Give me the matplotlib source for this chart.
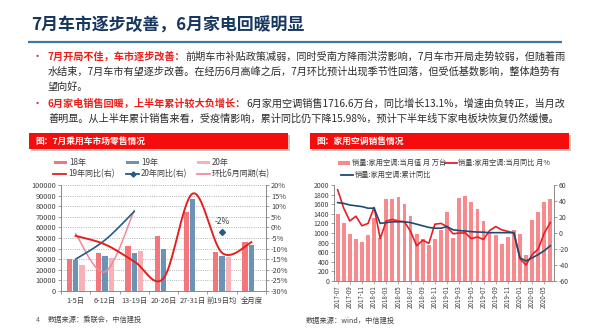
import numpy as np
import pandas as pd
import matplotlib
matplotlib.use('Agg')
import matplotlib.pyplot as plt
from matplotlib.patches import Rectangle
from matplotlib.lines import Line2D

plt.rcParams['font.family'] = ['Noto Sans CJK SC', 'DejaVu Sans']
plt.rcParams['axes.unicode_minus'] = False

# ---------------- 左图：7月乘用车市场零售（周度） ----------------
periods = ['1-5日', '6-12日', '13-19日', '20-26日', '27-31日', '前19日均', '全月度']
retail_18 = [30000, 35500, 42500, 51500, 75000, 37000, 46000]
retail_19 = [29500, 33000, 35500, 40000, 87000, 33000, 43000]
retail_20 = [25000, 31000, 38000, np.nan, np.nan, 32000, np.nan]
yoy_19 = [-4, -8, -16, -24, 16, -12, -7]              # 19年同比(右), %
yoy_20 = [-15, -6, 7.5, np.nan, np.nan, -2, np.nan]    # 20年同比(右), %
mom_jun = [-3, -21, 8, np.nan, np.nan, np.nan, np.nan]  # 环比6月同期(右), %

# ---------------- 右图：家用空调销售（月度） ----------------
months = list(pd.date_range('2017-07-01', periods=36, freq='MS').strftime('%Y-%m'))
ac_sales = [1400, 1200, 980, 870, 810, 960, 1320, 900, 1710, 1715, 1760, 1600,
            1350, 985, 880, 750, 880, 1055, 1435, 900, 1720, 1770, 1645, 1510,
            1245, 1000, 950, 775, 915, 1070, 985, 550, 1265, 1435, 1640, 1717]
ac_yoy = [54, 31, 15, 21, 9, 12, 32, -7, 15, 17, 15, 14,
          2, -16, -9, -13, 11, 12, 8, -1, 0, 0, -7, -5,
          -8, 3, 8, 4, 2, 0, -32, -40, -27, -20, 0, 13.1]
ac_cum_yoy = [38, 37, 35, 34, 33, 31, 31, 12, 13, 14, 14, 14,
              13, 11, 9, 7, 6, 6, 8, 4, 3, 2.5, 1.7, 1.2,
              1, 0.4, 0.4, 0.4, 0.4, 0.4, -31, -35, -31, -27, -22, -16]

RED = '#e8201c'
TXT = '#2b2b2b'
AX_TXT = '#404040'
SPINE = '#8c8c8c'

C18, C19, C20 = '#f2767c', '#6c93b5', '#f7b2b7'
C_YOY19, C_YOY20, C_MOM = '#e3201e', '#245b8a', '#f08b96'
C_AC_BAR, C_AC_YOY, C_AC_CUM = '#f68a8d', '#ec1c24', '#1f4a72'


def smooth_xy(x, y, steps=24):
    # Catmull-Rom 贝塞尔平滑，效果接近 Excel 的"平滑线"
    pts = np.column_stack([np.asarray(x, float), np.asarray(y, float)])
    if len(pts) < 2:
        return pts[:, 0], pts[:, 1]
    p = np.vstack([pts[0], pts, pts[-1]])
    t = np.linspace(0, 1, steps)[1:, None]
    out = [pts[:1]]
    for i in range(1, len(p) - 2):
        p0, p1, p2, p3 = p[i - 1], p[i], p[i + 1], p[i + 2]
        c1 = p1 + (p2 - p0) / 6
        c2 = p2 - (p3 - p1) / 6
        out.append((1 - t) ** 3 * p1 + 3 * (1 - t) ** 2 * t * c1
                   + 3 * (1 - t) * t ** 2 * c2 + t ** 3 * p2)
    out = np.vstack(out)
    return out[:, 0], out[:, 1]


def smooth_plot(ax, y, **kw):
    # 按连续的非空段分别画平滑线
    y = np.asarray(y, float)
    idx = np.where(~np.isnan(y))[0]
    groups = np.split(idx, np.where(np.diff(idx) > 1)[0] + 1)
    for g in groups:
        if len(g) > 1:
            xs, ys = smooth_xy(g, y[g])
            ax.plot(xs, ys, **kw)


fig = plt.figure(figsize=(6, 3.35), dpi=100)

# 整页背景坐标系（像素坐标，y 向下）
bg = fig.add_axes([0, 0, 1, 1])
bg.set_xlim(0, 600)
bg.set_ylim(335, 0)
bg.axis('off')

# 标题与分隔线
bg.text(31, 26, '7月车市逐步改善，6月家电回暖明显', fontsize=12.2, fontweight='bold',
        color='#17375e', va='center', ha='left')
bg.plot([28, 562], [42, 42], color='#3a76a6', lw=1.6, solid_capstyle='butt')


def body_line(y, dark, red=None, bullet=False):
    if bullet:
        bg.text(32, y, '•', color=RED, fontsize=8, va='center', ha='left')
    if red:
        t = bg.text(48, y, red, color=RED, fontsize=7.3, fontweight='bold',
                    va='center', ha='left')
        bg.annotate(dark, xy=(1, 0), xycoords=t, va='bottom', ha='left',
                    fontsize=7.3, color=TXT)
    else:
        bg.text(48, y, dark, color=TXT, fontsize=7.3, va='center', ha='left')


body_line(57, '前期车市补贴政策减弱，同时受南方降雨洪涝影响，7月车市开局走势较弱，但随着雨',
          red='7月开局不佳，车市逐步改善：', bullet=True)
body_line(72, '水结束，7月车市有望逐步改善。在经历6月高峰之后，7月环比预计出现季节性回落，但受低基数影响，整体趋势有')
body_line(87, '望向好。')
body_line(104, '6月家用空调销售1716.6万台，同比增长13.1%，增速由负转正，当月改',
          red='6月家电销售回暖，上半年累计较大负增长：', bullet=True)
body_line(118.5, '善明显。从上半年累计销售来看，受疫情影响，累计同比仍下降15.98%，预计下半年线下家电板块恢复仍然缓慢。')

# 图表标题红条（带浅灰阴影）
for x0, label in [(29, '图：7月乘用车市场零售情况'), (310, '图：家用空调销售情况')]:
    bg.add_patch(Rectangle((x0 + 1.5, 134.5), 259, 16, facecolor='#c4c4c4', edgecolor='none'))
    bg.add_patch(Rectangle((x0, 133), 259, 16, facecolor='#f50d0d', edgecolor='none'))
    bg.text(x0 + 6, 141.2, label, color='white', fontsize=6.3, fontweight='bold',
            va='center', ha='left')

# 左图图例
LEG_FS = 5.8
for x0, c, lab in [(54, C18, '18年'), (126, C19, '19年'), (197, C20, '20年')]:
    bg.add_patch(Rectangle((x0, 160.7), 13, 3.6, facecolor=c, edgecolor='none'))
    bg.text(x0 + 15, 162.5, lab, fontsize=LEG_FS, color=AX_TXT, va='center', ha='left')
for x0, c, lab, mk in [(53, C_YOY19, '19年同比(右)', None),
                       (126, C_YOY20, '20年同比(右)', 'D'),
                       (197, C_MOM, '环比6月同期(右)', None)]:
    bg.add_line(Line2D([x0, x0 + 13], [174, 174], color=c, lw=1.3))
    if mk:
        bg.add_line(Line2D([x0 + 6.5], [174], marker=mk, markersize=2.6, color=c))
    bg.text(x0 + 15, 174, lab, fontsize=LEG_FS, color=AX_TXT, va='center', ha='left')

# 右图图例
R_FS = 5.2
bg.add_patch(Rectangle((338, 161.2), 12, 3.6, facecolor=C_AC_BAR, edgecolor='none'))
bg.text(352, 163, '销量:家用空调:当月值 月 万台', fontsize=R_FS, color=AX_TXT, va='center', ha='left')
bg.add_line(Line2D([445, 457], [163, 163], color=C_AC_YOY, lw=1.3))
bg.text(458, 163, '销量:家用空调:当月同比 月%', fontsize=R_FS, color=AX_TXT, va='center', ha='left')
bg.add_line(Line2D([341, 353], [174.5, 174.5], color=C_AC_CUM, lw=1.3))
bg.text(355, 174.5, '销量:家用空调:累计同比', fontsize=R_FS, color=AX_TXT, va='center', ha='left')

# 数据来源
bg.text(36, 320, '4', fontsize=5, color='#666666', va='center', ha='left')
bg.text(48, 320, '数据来源：乘联会，中信建投', fontsize=5.2, color='#444444', va='center', ha='left')
bg.text(306, 321, '数据来源：wind，中信建投', fontsize=5.2, color='#444444', va='center', ha='left')

# ================= 左图 =================
ax1 = fig.add_axes([61 / 600, 1 - 291 / 335, 205 / 600, 106 / 335])
x = np.arange(len(periods))
bw = 0.18
ax1.bar(x - 0.215, retail_18, bw, color=C18, zorder=2)
ax1.bar(x, retail_19, bw, color=C19, zorder=2)
ax1.bar(x + 0.215, retail_20, bw, color=C20, zorder=2)
ax1.set_xlim(-0.5, len(periods) - 0.5)
ax1.set_ylim(0, 100000)
ax1.set_yticks(np.arange(0, 100001, 10000))
ax1.yaxis.grid(True, linestyle=':', color='#9a9a9a', lw=0.6)
ax1.set_axisbelow(True)
ax1.set_xticks(x, periods)
ax1.set_xticks(np.arange(-0.5, len(periods), 1), minor=True)
ax1.tick_params(axis='x', which='major', length=0, pad=4, labelsize=5.3, colors=AX_TXT)
ax1.tick_params(axis='x', which='minor', length=2.5, color=SPINE, width=0.6)
ax1.tick_params(axis='y', length=2, pad=1.5, labelsize=5.3, colors=AX_TXT, color=SPINE, width=0.6)
for s in ['top']:
    ax1.spines[s].set_visible(False)
for s in ['left', 'bottom', 'right']:
    ax1.spines[s].set_color(SPINE)
    ax1.spines[s].set_linewidth(0.7)

ax1r = ax1.twinx()
ax1r.set_ylim(-30, 20)
ax1r.set_yticks(np.arange(-30, 21, 5), [f'{v}%' for v in range(-30, 21, 5)])
ax1r.tick_params(axis='y', length=2, pad=1.5, labelsize=5.3, colors=AX_TXT, color=SPINE, width=0.6)
ax1r.spines['top'].set_visible(False)
for s in ['left', 'bottom', 'right']:
    ax1r.spines[s].set_color(SPINE)
    ax1r.spines[s].set_linewidth(0.7)

smooth_plot(ax1r, mom_jun, color=C_MOM, lw=1.1, zorder=3)
smooth_plot(ax1r, yoy_20, color=C_YOY20, lw=1.2, zorder=4)
smooth_plot(ax1r, yoy_19, color=C_YOY19, lw=1.4, zorder=5)
# 20年前19日均同比为孤立点，单独画标记
solo = [i for i, v in enumerate(yoy_20)
        if not np.isnan(v) and (i == 0 or np.isnan(yoy_20[i - 1]))
        and (i == len(yoy_20) - 1 or np.isnan(yoy_20[i + 1]))]
for i in solo:
    ax1r.plot(i, yoy_20[i], marker='D', markersize=3, color=C_YOY20, zorder=6)
    ax1r.annotate(f'{yoy_20[i]:.0f}%', (i, yoy_20[i]), xytext=(0, 7),
                  textcoords='offset points', ha='center', va='center',
                  fontsize=6, color=AX_TXT)

# ================= 右图 =================
ax2 = fig.add_axes([334 / 600, 1 - 281 / 335, 220 / 600, 96 / 335])
xm = np.arange(len(months))
ax2.bar(xm, ac_sales, 0.62, color=C_AC_BAR, zorder=2)
ax2.set_xlim(-0.6, len(months) - 0.4)
ax2.set_ylim(0, 2000)
ax2.set_yticks(np.arange(0, 2001, 200))
ax2.set_xticks(xm[::2], months[::2], rotation=90)
ax2.tick_params(axis='x', length=2, pad=1, labelsize=4.5, colors=AX_TXT, color=SPINE, width=0.5)
ax2.tick_params(axis='y', length=2, pad=1.5, labelsize=5, colors=AX_TXT, color=SPINE, width=0.6)
ax2.spines['top'].set_visible(False)
for s in ['left', 'bottom', 'right']:
    ax2.spines[s].set_color(SPINE)
    ax2.spines[s].set_linewidth(0.7)

ax2r = ax2.twinx()
ax2r.set_ylim(-60, 60)
ax2r.set_yticks(np.arange(-60, 61, 20))
ax2r.tick_params(axis='y', length=2, pad=1.5, labelsize=5, colors=AX_TXT, color=SPINE, width=0.6)
ax2r.spines['top'].set_visible(False)
for s in ['left', 'bottom', 'right']:
    ax2r.spines[s].set_color(SPINE)
    ax2r.spines[s].set_linewidth(0.7)
ax2r.plot(xm, ac_yoy, color=C_AC_YOY, lw=1.2, zorder=3)
ax2r.plot(xm, ac_cum_yoy, color=C_AC_CUM, lw=1.2, zorder=4)

fig.savefig('out.png', dpi=100, facecolor='white')
